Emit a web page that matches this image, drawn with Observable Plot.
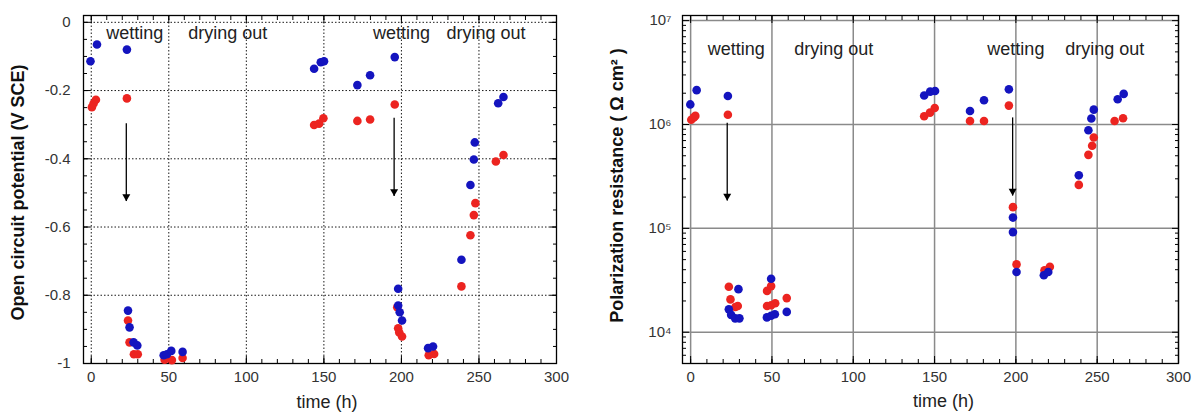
<!DOCTYPE html>
<html><head><meta charset="utf-8">
<script src="https://cdn.jsdelivr.net/npm/d3@7"></script>
<script src="https://cdn.jsdelivr.net/npm/@observablehq/plot@0.6"></script>
<style>
body{margin:0;background:#fff;}
#wrap{display:flex;width:1198px;height:412px;}
svg{font-family:"Liberation Sans",Arial,sans-serif;overflow:visible;}
</style>
</head><body><div id="wrap"></div>
<script>
// ---- Open circuit potential (left) ----
const ocpBlueTime  = [-0.5,3.7,23,23.7,24.7,27.3,29.7,46.7,48.8,51.6,58.9,143.7,148,150.1,171.6,179.8,195.7,197.9,197.9,198.9,200.4,217.2,220.4,238.7,244.5,246.7,247.3,262.4,265.8];
const ocpBlueValue = [-0.114,-0.065,-0.080,-0.845,-0.894,-0.938,-0.947,-0.976,-0.973,-0.963,-0.966,-0.136,-0.117,-0.114,-0.184,-0.155,-0.102,-0.781,-0.830,-0.850,-0.874,-0.955,-0.950,-0.696,-0.477,-0.402,-0.352,-0.237,-0.219];
const ocpRedTime   = [0.4,1.5,3,23,23.7,24.7,27.5,30,47.3,52,58.9,143.7,146.9,149.7,171.6,179.8,195.7,197.3,197.9,198.6,200.4,217.6,221.1,238.7,244.5,246.7,247.7,260.9,265.8];
const ocpRedValue  = [-0.249,-0.238,-0.227,-0.223,-0.874,-0.938,-0.973,-0.973,-0.989,-0.990,-0.984,-0.301,-0.297,-0.281,-0.289,-0.285,-0.241,-0.835,-0.897,-0.909,-0.921,-0.976,-0.972,-0.774,-0.624,-0.565,-0.530,-0.408,-0.389];

// ---- Polarization resistance (right) ----
const rpBlueTime  = [-0.2,3.7,22.9,23.5,24.9,27.4,29.4,30,46.9,49.5,49.5,51.8,59.1,143.6,147.3,150.3,171.8,180.4,195.7,198.2,198.2,200.4,217.2,219.9,238.7,244.6,246.4,247.9,262.6,266.3];
const rpBlueValue = [1.56e6,2.14e6,1.88e6,1.66e4,1.47e4,1.36e4,2.6e4,1.36e4,1.39e4,3.27e4,1.44e4,1.49e4,1.57e4,1.9e6,2.07e6,2.1e6,1.35e6,1.71e6,2.18e6,1.27e5,9.2e4,3.8e4,3.54e4,3.8e4,3.24e5,8.8e5,1.14e6,1.39e6,1.75e6,1.97e6];
const rpRedTime   = [0.4,2,2.9,22.9,23.5,24.5,27.5,29,47,49.5,47,49.5,52,59.1,143.6,147.2,150.1,171.8,180.4,195.7,198.2,200.4,217.6,220.9,238.7,244.6,246.9,247.9,260.7,265.9];
const rpRedValue  = [1.11e6,1.17e6,1.21e6,1.24e6,2.74e4,2.07e4,1.75e4,1.79e4,2.5e4,2.78e4,1.79e4,1.82e4,1.9e4,2.13e4,1.2e6,1.3e6,1.44e6,1.08e6,1.08e6,1.52e6,1.6e5,4.5e4,3.95e4,4.26e4,2.62e5,5.1e5,6.25e5,7.5e5,1.08e6,1.15e6];

// ---- annotations ----
const phaseLabels = ["wetting","drying out","wetting","drying out"];
const phaseTime   = [28, 88, 200, 254.6];
const ocpPhaseY   = -0.032;
const rpPhaseY    = 5.3e6;
const arrowTime   = [22.6, 195.3];
const ocpArrowFrom = [-0.296, -0.28];
const ocpArrowTo   = [-0.524, -0.509];
const rpArrowTime  = [22.5, 198];
const rpArrowFrom  = [1.04e6, 1.17e6];
const rpArrowTo    = [1.85e5, 2.07e5];

// ---- ticks ----
const timeTicks = [0,50,100,150,200,250,300];
const timeMinor = d3.range(0, 301, 10);
const ocpTicks  = [-1,-0.8,-0.6,-0.4,-0.2,0];
const ocpMinor  = d3.range(-1, 0.001, 0.05);
const rpTicks   = [1e4,1e5,1e6,1e7];
const rpMinor   = [5e3,6e3,7e3,8e3,9e3].concat(...[1e4,1e5,1e6].map(d => [2,3,4,5,6,7,8,9].map(k => k*d)));

const BLUE = "#1414bf", RED = "#ec2420";
const zipPts = (ts, vs) => ts.map((t, i) => ({t, v: vs[i]}));
const sup = {"4":"⁴","5":"⁵","6":"⁶","7":"⁷"};

function frameTicks(yMin) {
  return [
    Plot.axisX(timeMinor, {anchor:"bottom", tickSize:-4, tickFormat:()=>"", label:null, stroke:"black"}),
    Plot.axisX(timeTicks, {anchor:"bottom", tickSize:-7, tickFormat:()=>"", label:null, stroke:"black"}),
    Plot.axisX(timeMinor, {anchor:"top", tickSize:-4, tickFormat:()=>"", label:null, stroke:"black"}),
    Plot.axisX(timeTicks, {anchor:"top", tickSize:-7, tickFormat:()=>"", label:null, stroke:"black"}),
    Plot.axisY(yMin, {anchor:"left", tickSize:-4, tickFormat:()=>"", label:null, stroke:"black"}),
    Plot.axisY(yMin, {anchor:"right", tickSize:-4, tickFormat:()=>"", label:null, stroke:"black"}),
  ];
}

// Left chart
const ocpBlue = zipPts(ocpBlueTime, ocpBlueValue);
const ocpRed  = zipPts(ocpRedTime, ocpRedValue);
const ocpArrows = arrowTime.map((t,i) => ({t, y1: ocpArrowFrom[i], y2: ocpArrowTo[i]}));
const left = Plot.plot({
  width: 590, height: 412,
  marginLeft: 83, marginRight: 34, marginTop: 15, marginBottom: 49,
  x: {domain: [-5, 300]},
  y: {domain: [-1, 0.02]},
  marks: [
    Plot.gridX(timeTicks, {stroke:"black", strokeOpacity:0.9, strokeDasharray:"1.5,2"}),
    Plot.gridY(ocpTicks, {stroke:"black", strokeOpacity:0.9, strokeDasharray:"1.5,2"}),
    ...frameTicks(ocpMinor),
    Plot.axisY(ocpTicks, {anchor:"left", tickSize:-7, tickFormat:()=>"", label:null, stroke:"black"}),
    Plot.axisY(ocpTicks, {anchor:"right", tickSize:-7, tickFormat:()=>"", label:null, stroke:"black"}),
    Plot.axisX(timeTicks, {anchor:"bottom", tickSize:0, tickPadding:8, fontSize:15, label:null, color:"#333", tickFormat:d=>String(d)}),
    Plot.axisY(ocpTicks, {anchor:"left", tickSize:0, tickPadding:13, fontSize:15, label:null, color:"#333",
      tickFormat:d => d === 0 ? "0" : d === -1 ? "-1" : "-" + Math.abs(d).toFixed(1)}),
    Plot.frame({stroke:"black", strokeWidth:1.3}),
    Plot.text(phaseLabels, {x:(d,i)=>phaseTime[i], y:ocpPhaseY, text:d=>d, fontSize:18, fill:"#222"}),
    Plot.link(ocpArrows, {x1:"t", x2:"t", y1:"y1", y2:"y2", stroke:"black", strokeWidth:1.3}),
    Plot.dot(ocpArrows, {x:"t", y:"y2", symbol:"triangle2", r:3.8, rotate:180, dy:-4.5, fill:"black", stroke:null}),
    Plot.dot(ocpRed, {x:"t", y:"v", r:4.3, fill:RED}),
    Plot.dot(ocpBlue, {x:"t", y:"v", r:4.3, fill:BLUE}),
    Plot.text(["Open circuit potential (V SCE)"], {frameAnchor:"left", textAnchor:"middle", lineAnchor:"middle", dx:-65, dy:3, rotate:-90, fontSize:18, fontWeight:"bold", fill:"#111"}),
    Plot.text(["time (h)"], {frameAnchor:"bottom", lineAnchor:"middle", dx:7, dy:39, fontSize:18, fill:"#222"})
  ]
});

// Right chart
const rpBlue = zipPts(rpBlueTime, rpBlueValue);
const rpRed  = zipPts(rpRedTime, rpRedValue);
const rpArrows = rpArrowTime.map((t,i) => ({t, y1: rpArrowFrom[i], y2: rpArrowTo[i]}));
const right = Plot.plot({
  width: 608, height: 412,
  marginLeft: 92, marginRight: 20, marginTop: 15, marginBottom: 49,
  x: {domain: [-5, 300]},
  y: {type:"log", domain: [5000, 1.12e7]},
  marks: [
    Plot.gridX(timeTicks, {stroke:"#8a8a8a", strokeOpacity:1, strokeWidth:1.5}),
    Plot.gridY(rpTicks, {stroke:"#8a8a8a", strokeOpacity:1, strokeWidth:1.5}),
    ...frameTicks(rpMinor),
    Plot.axisY(rpTicks, {anchor:"left", tickSize:-7, tickFormat:()=>"", label:null, stroke:"black"}),
    Plot.axisY(rpTicks, {anchor:"right", tickSize:-7, tickFormat:()=>"", label:null, stroke:"black"}),
    Plot.axisX(timeTicks, {anchor:"bottom", tickSize:0, tickPadding:8, fontSize:15, label:null, color:"#333", tickFormat:d=>String(d)}),
    Plot.axisY(rpTicks, {anchor:"left", tickSize:0, tickPadding:11, fontSize:15, label:null, color:"#333",
      tickFormat:d => "10" + sup[String(Math.round(Math.log10(d)))]}),
    Plot.frame({stroke:"black", strokeWidth:1.3}),
    Plot.text(phaseLabels, {x:(d,i)=>phaseTime[i], y:rpPhaseY, text:d=>d, fontSize:18, fill:"#222"}),
    Plot.link(rpArrows, {x1:"t", x2:"t", y1:"y1", y2:"y2", stroke:"black", strokeWidth:1.3}),
    Plot.dot(rpArrows, {x:"t", y:"y2", symbol:"triangle2", r:3.8, rotate:180, dy:-4.5, fill:"black", stroke:null}),
    Plot.dot(rpRed, {x:"t", y:"v", r:4.3, fill:RED}),
    Plot.dot(rpBlue, {x:"t", y:"v", r:4.3, fill:BLUE}),
    Plot.text(["Polarization resistance ( Ω cm² )"], {frameAnchor:"left", textAnchor:"middle", lineAnchor:"middle", dx:-65, dy:-4, rotate:-90, fontSize:18, fontWeight:"bold", fill:"#111"}),
    Plot.text(["time (h)"], {frameAnchor:"bottom", lineAnchor:"middle", dx:13, dy:38, fontSize:18, fill:"#222"})
  ]
});

document.getElementById("wrap").append(left, right);
</script>
</body></html>
